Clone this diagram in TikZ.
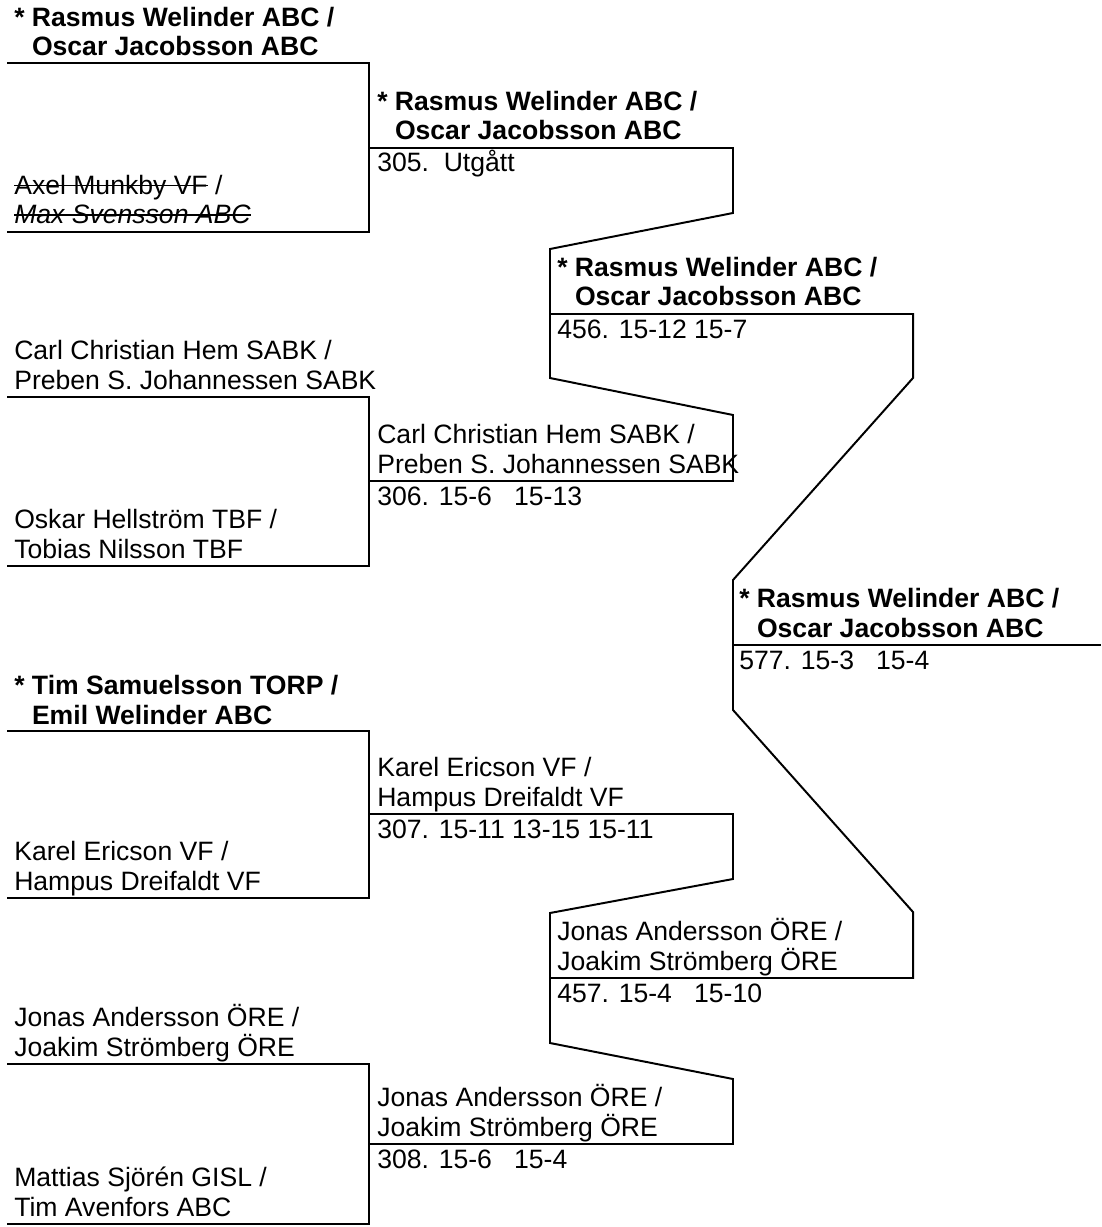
\documentclass[tikz,border=0pt]{standalone}
\usepackage{fontspec}
\setmainfont{Liberation Sans}
\usetikzlibrary{positioning}

\newcommand{\cupfont}{\fontsize{18.9pt}{21pt}\selectfont}
\newsavebox{\strikebox}
\newcommand{\strike}[1]{\sbox{\strikebox}{#1}\rlap{\rule[0.3em]{\wd\strikebox}{1.1pt}}\usebox{\strikebox}}

\tikzset{
  team/.style={align=left, anchor=base west, inner sep=0pt, font=\cupfont},
  seed/.style={team, font=\cupfont\bfseries},
  score/.style={anchor=base west, inner sep=0pt, font=\cupfont},
  rail/.style={line width=1.4pt, line join=miter}
}

\begin{document}
\begin{tikzpicture}[x=0.025cm, y=-0.025cm]
  \useasboundingbox (0,0) rectangle (1101,1227);
  % first round
  \node[seed] (t1) at (14,56) {* Rasmus Welinder ABC /\\\phantom{*\ }Oscar Jacobsson ABC};
  \node[team] (t2) at (14,224) {\strike{Axel Munkby VF} /\\\strike{\textit{Max Svensson ABC}}};
  \node[team] (t3) at (14,389) {Carl Christian Hem SABK /\\Preben S. Johannessen SABK};
  \node[team] (t4) at (14,558) {Oskar Hellström TBF /\\Tobias Nilsson TBF};
  \node[seed] (t5) at (14,724) {* Tim Samuelsson TORP /\\\phantom{*\ }Emil Welinder ABC};
  \node[team] (t6) at (14,890) {Karel Ericson VF /\\Hampus Dreifaldt VF};
  \node[team] (t7) at (14,1056) {Jonas Andersson ÖRE /\\Joakim Strömberg ÖRE};
  \node[team] (t8) at (14,1216) {Mattias Sjörén GISL /\\Tim Avenfors ABC};
  \draw[rail] (7,63) -- (369,63) -- (369,232) -- (7,232);
  \draw[rail] (7,397) -- (369,397) -- (369,566) -- (7,566);
  \draw[rail] (7,731) -- (369,731) -- (369,898) -- (7,898);
  \draw[rail] (7,1064) -- (369,1064) -- (369,1224) -- (7,1224);
  % second round
  \node[seed] (w305) at (377,140) {* Rasmus Welinder ABC /\\\phantom{*\ }Oscar Jacobsson ABC};
  \node[score] (s305) at (377,172) {305.\ \ Utgått};
  \node[team] (w306) at (377,473) {Carl Christian Hem SABK /\\Preben S. Johannessen SABK};
  \node[score] (s306) at (377,505) {306. 15-6\ \ \ 15-13};
  \node[team] (w307) at (377,806) {Karel Ericson VF /\\Hampus Dreifaldt VF};
  \node[score] (s307) at (377,838) {307. 15-11 13-15 15-11};
  \node[team] (w308) at (377,1136) {Jonas Andersson ÖRE /\\Joakim Strömberg ÖRE};
  \node[score] (s308) at (377,1168) {308. 15-6\ \ \ 15-4};
  \draw[rail] (369,148) -- (733,148) -- (733,213) -- (550,249) -- (550,378)
    -- (733,415) -- (733,481) -- (369,481);
  \draw[rail] (369,814) -- (733,814) -- (733,879) -- (550,913) -- (550,1043)
    -- (733,1079) -- (733,1144) -- (369,1144);
  % semifinals
  \node[seed] (w456) at (557,306) {* Rasmus Welinder ABC /\\\phantom{*\ }Oscar Jacobsson ABC};
  \node[score] (s456) at (557,338) {456. 15-12 15-7};
  \node[team] (w457) at (557,970) {Jonas Andersson ÖRE /\\Joakim Strömberg ÖRE};
  \node[score] (s457) at (557,1002) {457. 15-4\ \ \ 15-10};
  \draw[rail] (550,314) -- (913,314) -- (913,378) -- (733,580) -- (733,710)
    -- (913,912) -- (913,978) -- (550,978);
  % final
  \node[seed] (w577) at (739,637) {* Rasmus Welinder ABC /\\\phantom{*\ }Oscar Jacobsson ABC};
  \node[score] (s577) at (739,669) {577. 15-3\ \ \ 15-4};
  \draw[line width=1pt] (733,645) -- (1101,645);
\end{tikzpicture}
\end{document}
